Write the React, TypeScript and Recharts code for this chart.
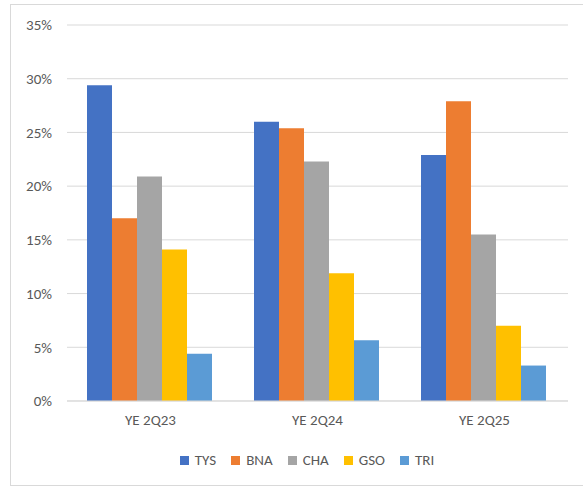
import React from 'react';
import { BarChart, Bar, XAxis, YAxis, CartesianGrid, Legend } from 'recharts';

const periods = ['YE 2Q23', 'YE 2Q24', 'YE 2Q25'];
const tys = [29.4, 26.0, 22.9];
const bna = [17.0, 25.4, 27.9];
const cha = [20.9, 22.3, 15.5];
const gso = [14.1, 11.9, 7.0];
const tri = [4.4, 5.65, 3.3];
const yTicks = [0, 5, 10, 15, 20, 25, 30, 35];

const series = [
  { key: 'TYS', values: tys, color: '#4472C4' },
  { key: 'BNA', values: bna, color: '#ED7D31' },
  { key: 'CHA', values: cha, color: '#A5A5A5' },
  { key: 'GSO', values: gso, color: '#FFC000' },
  { key: 'TRI', values: tri, color: '#5B9BD5' },
];

const data = periods.map((p, i) => {
  const row: any = { period: p };
  series.forEach((s) => (row[s.key] = s.values[i]));
  return row;
});

const FONT = "Carlito, Calibri, 'Noto Sans', sans-serif";
const TEXT = '#595959';
const FS = 15;

// legend in series order (recharts 3 sorts payload by name otherwise)
const renderLegend = () => (
  <div style={{ display: 'flex', justifyContent: 'center', alignItems: 'center', height: 24 }}>
    {series.map((s, i) => (
      <div
        key={s.key}
        style={{ display: 'flex', alignItems: 'center', marginRight: i < series.length - 1 ? 15 : 0 }}
      >
        <span style={{ width: 9, height: 9, background: s.color, display: 'inline-block', marginRight: 6 }} />
        <span style={{ fontSize: FS, color: TEXT, fontFamily: FONT }}>{s.key}</span>
      </div>
    ))}
  </div>
);

const App: React.FC = () => {
  return (
    <div
      style={{
        position: 'absolute',
        left: 10,
        top: 4,
        width: 573,
        height: 482,
        boxSizing: 'border-box',
        borderLeft: '1px solid #D9D9D9',
        borderTop: '1px solid #D9D9D9',
        borderBottom: '1px solid #D9D9D9',
        background: '#fff',
        fontFamily: FONT,
      }}
    >
      <BarChart
        width={572}
        height={480}
        data={data}
        margin={{ top: 20, right: 15, bottom: 13, left: 0 }}
        barCategoryGap={20}
        barGap={0}
      >
        <CartesianGrid vertical={false} stroke="#D9D9D9" strokeWidth={1} />
        <XAxis
          dataKey="period"
          axisLine={{ stroke: '#D9D9D9' }}
          tickLine={false}
          tickSize={0}
          tickMargin={13}
          height={47}
          tick={{ fill: TEXT, fontSize: FS, fontFamily: FONT }}
        />
        <YAxis
          domain={[0, 35]}
          ticks={yTicks}
          width={56}
          axisLine={false}
          tickLine={false}
          tickSize={0}
          tickMargin={15}
          tickFormatter={(v) => `${v}%`}
          tick={{ fill: TEXT, fontSize: FS, fontFamily: FONT }}
        />
        <Legend verticalAlign="bottom" content={renderLegend} wrapperStyle={{ left: 10, width: 572 }} />
        {series.map((s) => (
          <Bar key={s.key} dataKey={s.key} fill={s.color} isAnimationActive={false} />
        ))}
      </BarChart>
    </div>
  );
};

export default App;
